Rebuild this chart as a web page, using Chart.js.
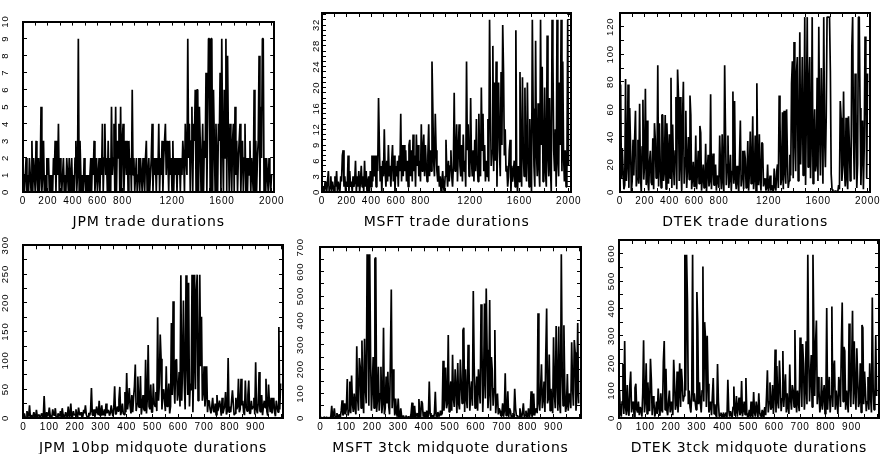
<!DOCTYPE html>
<html>
<head>
<meta charset="utf-8">
<script src="https://cdn.jsdelivr.net/npm/chart.js@4.4.1/dist/chart.umd.min.js"></script>
<style>
  html, body { margin: 0; padding: 0; background: #fff; overflow: hidden; width: 893px; height: 454px; }
  canvas { position: absolute; }
</style>
</head>
<body>
<canvas id="c1" width="290" height="232" style="left:0px;top:0px"></canvas>
<canvas id="c2" width="288" height="232" style="left:299px;top:0px"></canvas>
<canvas id="c3" width="289" height="232" style="left:597px;top:0px"></canvas>
<canvas id="c4" width="290" height="234" style="left:0px;top:226px"></canvas>
<canvas id="c5" width="291" height="234" style="left:297px;top:226px"></canvas>
<canvas id="c6" width="290" height="234" style="left:596px;top:226px"></canvas>
<script>
// 300 durations per series, evenly spread over 2000 trades / 1000 quotes
const jpmTrade = [
  1,0,1,2,0,1,0,2,1,0,3,0,2,1,0,3,1,0,2,0,
  1,5,0,1,3,0,1,0,2,1,2,0,1,0,1,0,2,1,3,0,
  3,1,4,0,2,1,0,1,2,0,1,0,2,1,0,2,0,1,2,0,
  1,0,2,3,0,1,9,0,3,1,0,1,0,2,1,0,1,0,1,0,
  1,2,0,2,1,3,0,1,2,0,1,2,0,2,1,4,0,2,4,1,
  2,0,3,0,2,0,5,1,2,4,0,5,0,3,2,4,0,5,0,3,
  4,0,2,3,1,3,0,3,1,2,0,6,1,2,0,1,2,0,1,2,
  0,2,1,0,2,1,0,2,3,0,1,2,0,1,2,4,0,2,1,2,
  0,2,1,4,0,2,1,3,0,2,3,4,1,3,2,0,3,1,2,0,
  3,0,2,1,2,0,2,1,2,0,2,1,3,2,0,4,2,1,9,2,
  4,0,3,5,0,4,3,6,0,6,6,0,5,3,0,2,4,0,3,2,
  7,0,4,9,9,0,9,9,0,6,3,0,4,2,0,4,3,7,0,9,
  3,0,6,2,9,0,8,3,0,4,2,0,3,4,0,5,1,3,0,2,
  3,4,0,2,3,0,2,4,0,2,0,2,1,3,0,2,1,0,6,0,
  3,0,2,3,8,0,5,2,9,9,0,2,0,2,1,0,2,1,0,1
];
const msftTrade = [
  0,1,0,2,1,0,2,4,0,1,3,0,2,1,0,3,1,4,0,2,
  1,0,3,2,7,8,1,3,0,2,1,7,0,4,1,2,0,3,1,2,
  6,0,3,1,4,0,2,5,1,3,0,6,1,4,0,2,3,0,4,1,
  7,2,7,3,7,1,7,4,18,9,2,5,0,6,3,12,4,1,6,2,
  9,3,5,1,6,9,2,7,0,5,3,6,1,7,4,15,2,9,3,9,
  4,8,2,6,1,9,10,3,8,2,11,4,7,1,11,5,9,3,6,2,
  13,4,8,11,3,9,5,2,7,13,3,8,4,25,16,6,3,15,8,4,
  2,5,1,3,0,2,4,1,0,3,10,4,1,6,2,5,8,3,1,5,
  19,4,6,13,2,8,13,5,3,9,2,11,4,6,1,25,8,13,3,5,
  18,6,3,8,2,10,4,14,6,2,15,5,3,20,8,15,4,9,2,6,
  3,14,2,33,17,5,8,28,4,21,6,25,1,14,21,8,3,23,9,32,
  23,7,12,4,5,1,3,8,10,0,5,2,4,6,1,31,3,0,5,2,
  23,6,1,22,8,3,20,5,2,21,7,1,14,6,0,33,16,5,1,29,
  8,3,17,5,1,33,9,24,2,6,20,4,1,30,7,3,18,5,0,33,
  26,8,4,12,1,33,6,3,21,9,33,4,25,7,2,8,1,3,33,5
];
const dtekTrade = [
  78,10,32,15,2,5,82,8,20,78,3,61,35,0,8,38,12,39,59,4,10,38,6,64,12,0,33,67,9,20,
  75,5,52,8,1,22,30,7,5,39,2,50,38,10,12,92,4,50,20,3,56,56,8,15,56,2,50,30,6,42,
  10,83,3,49,20,5,30,69,2,89,70,8,69,20,1,54,80,6,25,59,3,18,40,9,70,56,2,10,22,4,
  8,41,2,15,30,6,48,43,1,10,20,3,5,35,0,15,27,4,8,71,2,20,28,5,5,20,1,12,10,3,
  41,15,2,42,8,0,92,44,5,20,41,3,10,27,1,15,73,6,66,10,2,19,8,0,25,52,4,12,30,2,
  30,24,3,8,37,1,15,44,6,20,55,2,10,41,0,79,20,5,42,10,1,36,35,4,8,10,1,3,20,0,
  5,12,1,5,2,0,17,4,1,15,20,3,70,52,5,10,58,2,59,15,6,60,25,3,8,27,12,79,95,10,
  109,40,15,87,98,8,30,116,20,52,98,12,40,127,5,60,127,18,76,98,10,40,127,6,37,60,15,20,83,8,
  120,45,12,90,50,6,127,40,18,55,127,127,127,127,88,13,2,1,0,0,1,0,1,0,5,2,66,54,8,20,
  73,20,4,54,10,2,55,35,8,12,105,127,40,9,86,61,3,20,127,127,61,5,30,52,2,32,113,85,10,86
];
const jpmQuote = [
  2,8,1,0,12,4,3,22,0,5,1,3,10,3,0,14,2,5,6,0,2,8,4,1,38,2,0,10,3,6,
  18,5,1,2,15,6,4,17,0,1,8,5,3,12,2,17,6,0,2,10,4,1,20,3,4,25,1,3,12,5,
  6,15,3,2,18,7,5,10,1,3,14,8,22,6,2,2,9,4,12,52,6,4,15,2,8,20,10,5,30,4,
  10,22,5,6,15,3,25,8,14,12,4,9,22,10,3,18,55,6,8,20,12,32,54,5,12,25,8,6,45,10,
  78,15,30,52,20,8,40,10,35,55,93,12,25,72,20,18,73,6,20,40,15,12,101,8,35,127,20,15,58,10,
  10,60,25,20,45,12,175,30,60,145,103,15,40,50,30,12,90,20,35,60,8,20,165,40,203,60,25,100,102,30,
  45,80,20,248,30,90,204,60,15,248,100,40,235,20,60,48,249,10,90,249,50,220,249,30,60,249,90,176,30,45,
  90,20,40,90,10,30,30,15,8,20,35,12,10,25,5,40,12,20,30,20,4,35,8,15,20,45,6,12,104,10,
  20,10,30,48,25,5,8,35,15,20,68,10,15,68,22,30,10,5,65,20,12,40,65,8,8,30,15,20,35,6,
  97,15,8,25,80,12,10,40,5,20,30,18,68,12,4,58,25,10,35,8,20,35,10,3,30,20,10,158,15,60
];
const msftQuote = [
  0,2,0,0,5,1,1,3,0,0,2,1,8,50,3,10,40,2,5,20,8,3,15,5,30,73,10,20,60,15,
  40,160,10,30,150,20,174,60,25,100,40,15,294,80,30,246,210,40,318,90,20,325,120,60,671,400,50,671,250,30,
  120,250,40,652,658,25,80,210,30,100,210,20,60,370,15,40,170,60,190,50,15,250,527,40,200,90,10,80,20,5,
  80,10,2,40,5,1,10,2,0,10,0,3,5,3,0,20,63,2,5,50,1,10,20,4,78,12,2,70,60,5,
  25,10,2,30,5,8,150,20,3,10,8,1,20,108,5,15,25,6,10,30,12,20,235,30,80,207,40,60,340,25,
  100,150,30,259,80,45,200,120,20,225,60,35,240,150,60,360,370,25,200,80,40,300,210,30,100,150,50,521,220,40,
  90,170,30,200,120,60,466,300,25,150,470,80,531,280,40,100,484,30,250,195,50,120,361,20,80,100,15,40,30,8,
  10,60,5,30,183,10,20,110,3,40,30,5,8,20,2,120,40,8,10,5,1,40,15,3,20,60,5,10,30,2,
  8,40,3,20,110,5,15,100,10,30,40,20,430,60,30,120,220,40,80,150,25,260,449,60,80,260,30,120,60,20,
  331,100,40,377,150,30,375,60,20,671,200,50,380,120,25,50,180,30,100,90,40,311,130,50,320,270,30,100,390,60
];
const dtekQuote = [
  100,20,5,60,197,15,281,40,10,120,30,8,120,170,20,50,60,5,110,125,30,20,60,10,40,30,5,90,284,20,
  60,200,15,130,50,25,216,140,10,80,60,5,20,60,15,108,40,8,90,30,20,207,281,30,180,30,10,60,100,20,
  60,40,10,213,130,30,50,170,20,90,200,40,180,130,60,80,596,100,596,430,50,100,40,20,90,596,60,90,60,30,
  460,335,50,130,60,20,100,553,60,350,290,40,300,125,20,40,60,10,80,146,15,50,10,3,197,60,5,10,20,2,
  5,20,0,10,20,2,140,30,5,25,10,1,40,115,8,20,80,5,40,75,10,20,135,6,30,60,12,146,20,4,
  10,30,2,60,10,1,95,20,5,60,30,3,90,20,6,10,30,2,20,40,10,80,174,20,60,130,30,40,120,15,
  80,250,20,190,60,35,210,120,25,70,245,40,100,160,20,90,40,15,195,70,30,120,100,40,321,80,20,100,60,25,
  294,150,40,270,200,30,100,280,50,596,230,60,150,230,40,596,310,80,270,356,50,150,100,20,50,150,30,80,120,15,
  60,402,30,100,150,20,80,407,40,180,210,30,100,60,15,150,120,40,260,422,60,260,245,30,100,60,20,345,120,40,
  200,392,50,280,100,30,255,150,40,60,200,20,340,330,50,170,100,25,60,150,30,200,80,20,440,110,30,60,300,80
];

const titles = [
  'JPM trade durations', 'MSFT trade durations', 'DTEK trade durations',
  'JPM 10bp midquote durations', 'MSFT 3tck midquote durations', 'DTEK 3tck midquote durations'
];
const tradeXLabels = [0, 200, 400, 600, 800, 1200, 1600, 2000];
const quoteXLabels = [0, 100, 200, 300, 400, 500, 600, 700, 800, 900];
const jpmTradeYLabels = [0, 1, 2, 3, 4, 5, 6, 7, 8, 9, 10];
const msftTradeYLabels = [0, 3, 6, 9, 12, 16, 20, 24, 28, 32];
const dtekTradeYLabels = [0, 20, 40, 60, 80, 100, 120];
const jpmQuoteYLabels = [0, 50, 100, 150, 200, 250, 300];
const msftQuoteYLabels = [0, 100, 200, 300, 400, 500, 600, 700];
const dtekQuoteYLabels = [0, 100, 200, 300, 400, 500, 600];

const range = (lo, hi, step) => Array.from({length: Math.round((hi - lo) / step) + 1}, (_, i) => lo + i * step);

const top1 = {x0: 5, dx: 20 / 3, xMin: 0, xMax: 2020, xStep: 100, xLabels: tradeXLabels, padTop: 13, axisH: 40, titlePad: 1.6};
const bot1 = {x0: 0, dx: 10 / 3, xMin: -2, xMax: 1006, xStep: 50, xLabels: quoteXLabels, padTop: 14, axisH: 42, titlePad: 3.3};

const panels = [
  {id: 'c1', title: titles[0], values: jpmTrade, yMax: 10, yStep: 1, yLabels: jpmTradeYLabels, yPad: 15.9, ...top1},
  {id: 'c2', title: titles[1], values: msftTrade, yMax: 34.3, yStep: 1, yLabels: msftTradeYLabels, yPad: 4.7, ...top1},
  {id: 'c3', title: titles[2], values: dtekTrade, yMax: 130, yStep: 10, yLabels: dtekTradeYLabels, yPad: 6.1, ...top1},
  {id: 'c4', title: titles[3], values: jpmQuote, yMax: 300, yStep: 25, yLabels: jpmQuoteYLabels, yPad: 13.6, ...bot1},
  {id: 'c5', title: titles[4], values: msftQuote, yMax: 700, yStep: 50, yLabels: msftQuoteYLabels, yPad: 15.6, ...bot1},
  {id: 'c6', title: titles[5], values: dtekQuote, yMax: 650, yStep: 50, yLabels: dtekQuoteYLabels, yPad: 4.1, ...bot1}
];

const ink = '#000';
const tickFont = {family: 'Liberation Sans', size: 10};
const yTickFont = {family: 'Liberation Sans', size: 9.5};
const titleFont = {family: 'DejaVu Sans', size: 14};

// inward tick marks, black frame on all four sides
const frameGrid = {drawOnChartArea: false, drawTicks: true, tickLength: -4, color: ink, lineWidth: 1};
const frameBorder = {display: true, color: ink, width: 2};

// the labels are set slightly apart
const spacedText = {
  id: 'spacedText',
  beforeDraw: chart => { chart.ctx.letterSpacing = '0.8px' }
};

function makeChart(p) {
  const xTicks = axis => { axis.ticks = range(0, p.xMax - p.xMax % p.xStep, p.xStep).map(v => ({value: v})) };
  const yTicks = axis => { axis.ticks = range(0, p.yMax - p.yMax % p.yStep, p.yStep).map(v => ({value: v})) };

  return new Chart(document.getElementById(p.id), {
    type: 'line',
    data: {
      datasets: [{
        data: p.values.map((v, i) => ({x: p.x0 + p.dx * i, y: v})),
        borderColor: '#000',
        borderWidth: 1.7,
        borderJoinStyle: 'bevel',
        pointRadius: 0,
        tension: 0
      }]
    },
    plugins: [spacedText],
    options: {
      responsive: false,
      animation: false,
      events: [],
      layout: {padding: {top: p.padTop, right: 7, left: 0, bottom: 0}},
      plugins: {legend: {display: false}, tooltip: {enabled: false}},
      scales: {
        x: {
          type: 'linear', position: 'bottom', min: p.xMin, max: p.xMax,
          afterBuildTicks: xTicks,
          afterFit: axis => { axis.height = p.axisH },
          grid: frameGrid, border: frameBorder,
          ticks: {
            autoSkip: false, maxRotation: 0, minRotation: 0, padding: 7,
            color: ink, font: tickFont,
            callback: v => p.xLabels.includes(v) ? String(v) : ''
          },
          title: {display: true, text: p.title, color: ink, font: titleFont, padding: {top: 0, bottom: p.titlePad}}
        },
        x2: {
          type: 'linear', position: 'top', min: p.xMin, max: p.xMax,
          afterBuildTicks: xTicks,
          afterFit: axis => { axis.height = 0 },
          grid: frameGrid, border: frameBorder,
          ticks: {display: false}
        },
        y: {
          type: 'linear', position: 'left', min: 0, max: p.yMax,
          afterBuildTicks: yTicks,
          afterFit: axis => { axis.width = 23 },
          grid: frameGrid, border: frameBorder,
          ticks: {
            autoSkip: false, minRotation: 90, maxRotation: 90, crossAlign: 'center', padding: p.yPad,
            color: ink, font: yTickFont,
            callback: v => p.yLabels.includes(v) ? String(v) : ''
          }
        },
        y2: {
          type: 'linear', position: 'right', min: 0, max: p.yMax,
          afterBuildTicks: yTicks,
          afterFit: axis => { axis.width = 0 },
          grid: frameGrid, border: frameBorder,
          ticks: {display: false}
        }
      }
    }
  });
}

panels.forEach(makeChart);
</script>
</body>
</html>
